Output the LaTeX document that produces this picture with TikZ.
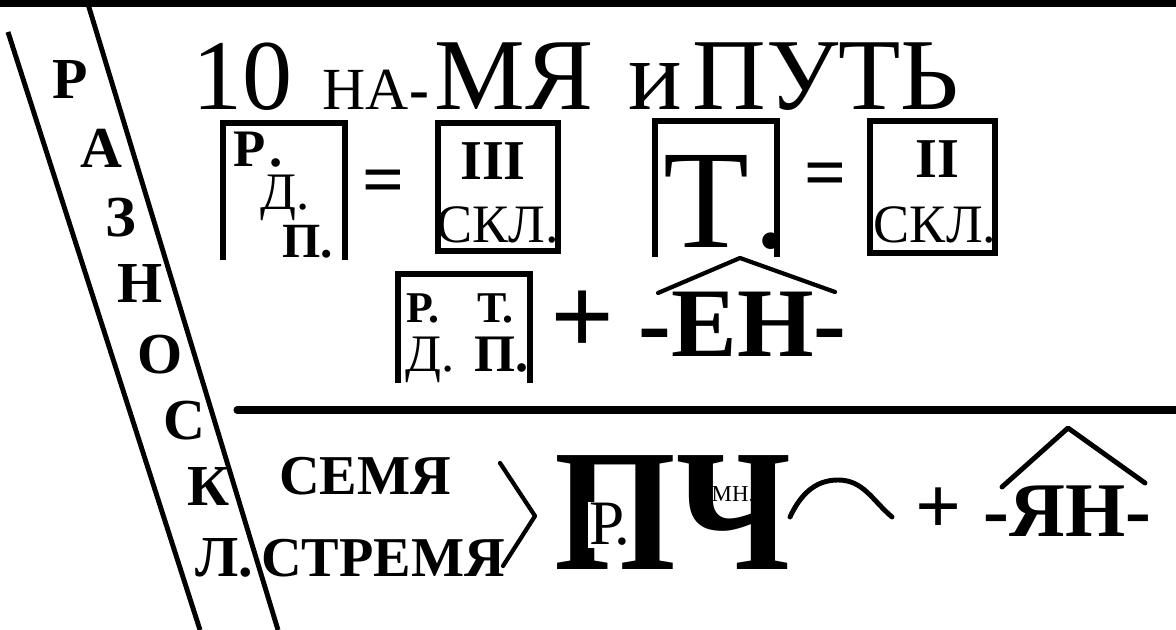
\documentclass[tikz,border=0pt]{standalone}
\usepackage{fontspec}
\setmainfont{Liberation Serif}
\usepackage{tikz}

\begin{document}
\begin{tikzpicture}[every node/.style={inner sep=0pt},
fs/.style={font=\fontsize{#1}{#1}\selectfont},
bfs/.style={font=\bfseries\fontsize{#1}{#1}\selectfont},
rule/.style={line width=2pt},
frame/.style={line width=1.7pt},
hat/.style={line width=1.2pt,line join=round,line cap=round}]
\useasboundingbox (0,0) rectangle (11.76,6.30);
\draw[rule](0,6.26)--(11.76,6.26);
\draw[line width=1.4pt](0.08,5.98)--(2.00,0)
(0.88,6.26)--(2.78,0);
\draw[rule,line cap=round](2.37,2.20)--(11.76,2.20);
\path[bfs=16.5]
(0.70,5.50)node(lR){Р}
(1.01,4.82)node(lA){А}
(1.21,4.12)node(lZ){З}
(1.40,3.46)node(lN){Н}
(1.60,2.75)node(lO){О}
(1.84,2.09)node(lS){С}
(2.09,1.43)node(lK){К}
(2.24,0.72)node(lL){Л.};
\path
(1.92,5.20)node[anchor=base west,fs=28.5](t10){10}
(3.22,5.20)node[anchor=base west,fs=17](tna){НА\textbf{-}}
(4.34,5.20)node[anchor=base west,fs=29](tmya){МЯ}
(6.28,5.20)node[anchor=base west,fs=28.5](ti){и}
(6.92,5.20)node[anchor=base west,fs=29](tput){ПУТЬ};
\draw[frame](2.23,3.70)--(2.23,5.07)--(3.45,5.07)--(3.45,3.70);
\draw[frame](4.38,5.07)rectangle(5.58,3.79);
\draw[frame](6.55,3.73)--(6.55,5.09)--(7.77,5.09)--(7.77,3.73);
\draw[frame](8.70,5.09)rectangle(9.95,3.77);
\draw[frame](3.98,2.47)--(3.98,3.56)--(5.30,3.56)--(5.30,2.47);
\path
(2.33,4.63)node[anchor=base west,bfs=15](br){Р\kern1pt.}
(2.60,4.20)node[anchor=base west,fs=15](bd){Д.}
(2.82,3.72)node[anchor=base west,bfs=14](bp){П.}
(3.84,4.43)node[bfs=21](eqa){=}
(4.93,4.50)node[anchor=base,bfs=16](three){III}
(4.98,3.87)node[anchor=base,fs=15.4](sklA){СКЛ.}
(6.63,3.82)node[anchor=base west,fs=40](bt){Т\kern1pt.}
(8.26,4.50)node[bfs=21](eqb){=}
(9.37,4.52)node[anchor=base,bfs=16](two){II}
(9.35,3.87)node[anchor=base,fs=15.4](sklB){СКЛ.};
\draw[hat](6.58,3.37)--(7.40,3.72)--(8.35,3.38);
\path
(4.06,3.07)node[anchor=base west,bfs=12.5](cr){Р.}
(4.77,3.07)node[anchor=base west,bfs=12.5](ct){Т.}
(4.05,2.58)node[anchor=base west,fs=15](cd){Д.}
(4.74,2.58)node[anchor=base west,bfs=15](cp){П.}
(5.83,3.07)node[bfs=32](plA){+}
(6.38,2.73)node[anchor=base west,bfs=28](en){-ЕН-};
\path
(3.65,1.35)node[anchor=base,bfs=16](semya){СЕМЯ}
(3.83,0.53)node[anchor=base,bfs=16](stremya){СТРЕМЯ};
\draw[hat](5.00,1.67)--(5.35,1.14)--(5.03,0.64);
\path
(6.73,0.60)node[anchor=base,bfs=49.5,xscale=0.9](pch){ПЧ}
(5.87,0.85)node[anchor=base west,fs=18,fill=white,inner sep=0.5pt](pr){Р\kern-3pt.}
(7.11,1.28)node[anchor=base west,fs=6.5](mn){МН.};
\draw[hat,line width=1.4pt](7.90,1.13)to[out=65,in=180](8.38,1.50)to[out=0,in=140](8.92,1.13);
\path
(9.39,1.19)node[bfs=23](plB){+}
(9.83,0.93)node[anchor=base west,bfs=22](yan){-ЯН-};
\draw[hat,line width=1.4pt](10.02,1.43)--(10.68,2.02)--(11.45,1.47);
\end{tikzpicture}
\end{document}
